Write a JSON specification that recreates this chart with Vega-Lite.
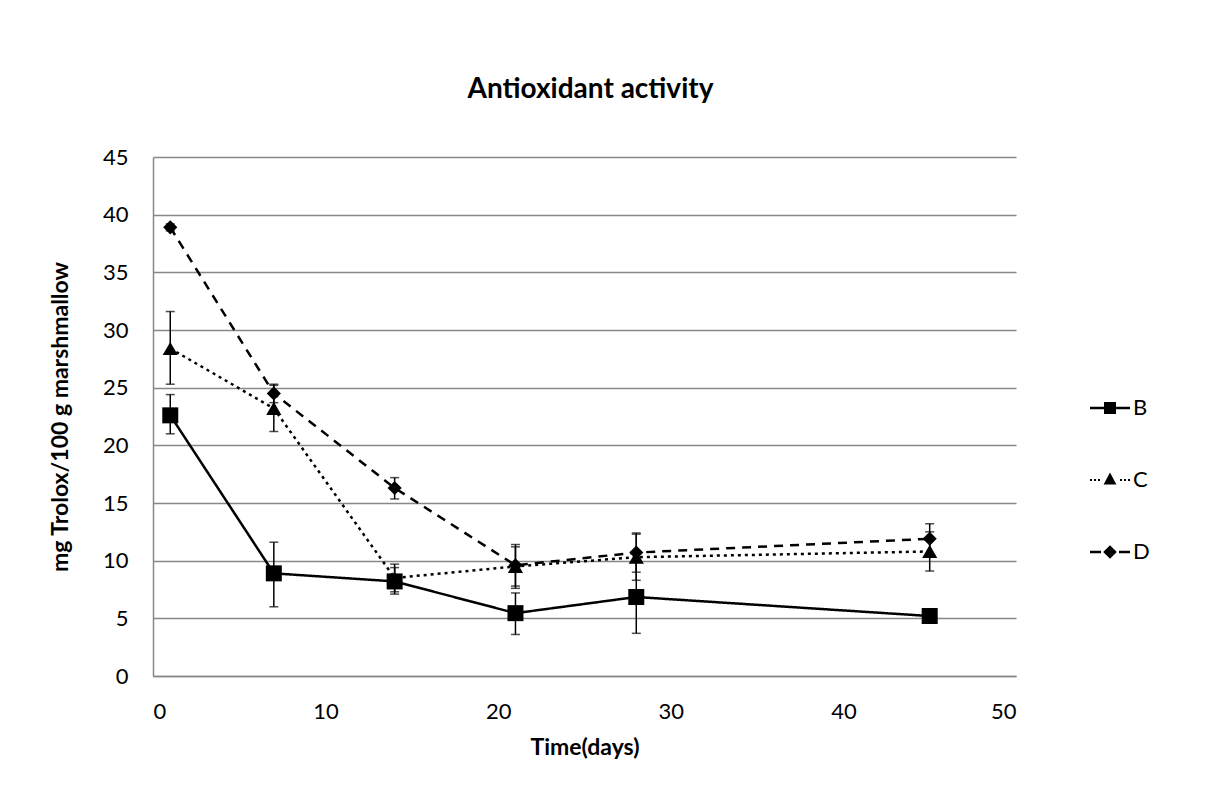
{
  "$schema": "https://vega.github.io/schema/vega-lite/v6.json",
  "width": 863,
  "height": 519,
  "autosize": {"type": "none"},
  "padding": {"left": 153, "top": 157, "right": 195, "bottom": 122},
  "background": "white",
  "title": {"text": "Antioxidant activity", "font": "Lato", "fontSize": 28, "fontWeight": "bold", "color": "black", "anchor": "middle", "baseline": "bottom", "offset": 14, "dx": 6},
  "data": {"values": [
    {"series": "B", "day": 1, "value": 22.6, "lo": 21.0, "hi": 24.4},
    {"series": "B", "day": 7, "value": 8.9, "lo": 6.0, "hi": 11.6},
    {"series": "B", "day": 14, "value": 8.2, "lo": 7.1, "hi": 9.4},
    {"series": "B", "day": 21, "value": 5.45, "lo": 3.6, "hi": 7.2},
    {"series": "B", "day": 28, "value": 6.85, "lo": 3.7, "hi": 10.0},
    {"series": "B", "day": 45, "value": 5.2, "lo": 5.0, "hi": 5.4},
    {"series": "C", "day": 1, "value": 28.4, "lo": 25.3, "hi": 31.6},
    {"series": "C", "day": 7, "value": 23.2, "lo": 21.2, "hi": 25.2},
    {"series": "C", "day": 14, "value": 8.5, "lo": 7.3, "hi": 9.7},
    {"series": "C", "day": 21, "value": 9.5, "lo": 7.6, "hi": 11.2},
    {"series": "C", "day": 28, "value": 10.3, "lo": 8.3, "hi": 12.3},
    {"series": "C", "day": 45, "value": 10.8, "lo": 9.1, "hi": 12.5},
    {"series": "D", "day": 1, "value": 38.9, "lo": 38.6, "hi": 39.2},
    {"series": "D", "day": 7, "value": 24.5, "lo": 23.7, "hi": 25.3},
    {"series": "D", "day": 14, "value": 16.3, "lo": 15.35, "hi": 17.2},
    {"series": "D", "day": 21, "value": 9.6, "lo": 7.8, "hi": 11.4},
    {"series": "D", "day": 28, "value": 10.7, "lo": 9.0, "hi": 12.4},
    {"series": "D", "day": 45, "value": 11.9, "lo": 10.6, "hi": 13.2}
  ]},
  "encoding": {
    "x": {"field": "day", "type": "quantitative", "scale": {"domain": [0, 50]}, "axis": {"title": "Time(days)", "values": [0, 10, 20, 30, 40, 50], "grid": false, "labelPadding": 25, "titlePadding": 14}}
  },
  "layer": [
    {
      "mark": {"type": "line", "color": "black", "strokeWidth": 2.5},
      "encoding": {
        "y": {"field": "value", "type": "quantitative", "scale": {"domain": [0, 45]}, "axis": {"title": "mg Trolox/100 g marshmallow", "values": [0, 5, 10, 15, 20, 25, 30, 35, 40, 45], "labelPadding": 25, "titlePadding": 30}},
        "strokeDash": {
          "field": "series", "type": "nominal",
          "scale": {"range": [[1, 0], [3, 4], [9, 7]]},
          "legend": null
        }
      }
    },
    {
      "mark": {"type": "rule", "color": "black", "strokeWidth": 1.5},
      "encoding": {
        "y": {"field": "lo", "type": "quantitative", "title": "mg Trolox/100 g marshmallow"},
        "y2": {"field": "hi"}
      }
    },
    {
      "mark": {"type": "tick", "orient": "horizontal", "color": "black", "size": 9, "thickness": 1.5},
      "encoding": {
        "y": {"field": "lo", "type": "quantitative", "title": "mg Trolox/100 g marshmallow"}
      }
    },
    {
      "mark": {"type": "tick", "orient": "horizontal", "color": "black", "size": 9, "thickness": 1.5},
      "encoding": {
        "y": {"field": "hi", "type": "quantitative", "title": "mg Trolox/100 g marshmallow"}
      }
    },
    {
      "transform": [{"filter": "datum.series === 'B'"}],
      "mark": {"type": "point", "filled": true, "color": "black", "opacity": 1, "shape": "square", "size": 256},
      "encoding": {
        "y": {"field": "value", "type": "quantitative", "title": "mg Trolox/100 g marshmallow"}
      }
    },
    {
      "transform": [{"filter": "datum.series === 'C'"}],
      "mark": {"type": "point", "filled": true, "color": "black", "opacity": 1, "shape": "triangle-up", "size": 230},
      "encoding": {
        "y": {"field": "value", "type": "quantitative", "title": "mg Trolox/100 g marshmallow"}
      }
    },
    {
      "transform": [{"filter": "datum.series === 'D'"}],
      "mark": {"type": "point", "filled": true, "color": "black", "opacity": 1, "shape": "diamond", "size": 200},
      "encoding": {
        "y": {"field": "value", "type": "quantitative", "title": "mg Trolox/100 g marshmallow"}
      }
    },
    {
      "mark": {"type": "point", "filled": true, "color": "black", "size": 0, "strokeWidth": 0},
      "encoding": {
        "y": {"field": "value", "type": "quantitative", "title": "mg Trolox/100 g marshmallow"},
        "shape": {
          "field": "series", "type": "nominal",
          "scale": {"domain": ["B", "C", "D"], "range": [
            "M-1,-0.06H1V0.06H-1Z M-0.3,-0.3H0.3V0.3H-0.3Z",
            "M-1,-0.05H-0.9V0.05H-1Z M-0.8,-0.05H-0.7V0.05H-0.8Z M-0.6,-0.05H-0.5V0.05H-0.6Z M0.5,-0.05H0.6V0.05H0.5Z M0.7,-0.05H0.8V0.05H0.7Z M0.9,-0.05H1V0.05H0.9Z M0,-0.38L0.32,0.22L-0.32,0.22Z",
            "M-1,-0.06H-0.45V0.06H-1Z M0.45,-0.06H1V0.06H0.45Z M0,-0.34L0.34,0L0,0.34L-0.34,0Z"
          ]},
          "legend": {
            "title": null, "orient": "none", "legendX": 937, "legendY": 231,
            "symbolSize": 1600, "rowPadding": 41, "labelFont": "Lato", "labelFontSize": 22, "labelColor": "black", "labelOffset": 3,
            "symbolStrokeWidth": 0, "symbolFillColor": "black", "symbolOpacity": 1, "padding": 0
          }
        }
      }
    }
  ],
  "config": {
    "view": {"stroke": null},
    "axis": {
      "domainColor": "#888888", "domainWidth": 1.5, "gridColor": "#888888", "gridWidth": 1.5, "gridOpacity": 1,
      "ticks": false, "labelFont": "Lato", "labelFontSize": 22, "labelColor": "black",
      "titleFont": "Lato", "titleFontSize": 23, "titleFontWeight": "bold", "titleColor": "black"
    }
  }
}
